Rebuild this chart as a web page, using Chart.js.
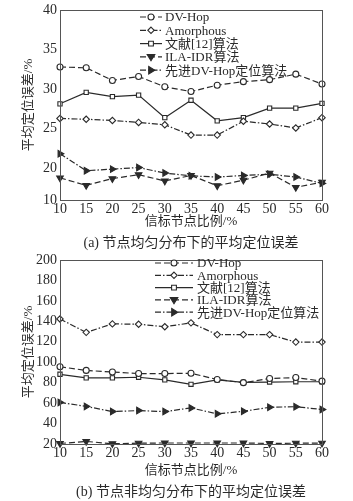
<!DOCTYPE html>
<html>
<head>
<meta charset="utf-8">
<script src="https://cdn.jsdelivr.net/npm/chart.js@4.4.1/dist/chart.umd.min.js"></script>
<style>
  body { margin: 0; background: #fff; }
  #wrap { position: relative; width: 353px; height: 501px; }
  canvas { position: absolute; left: 0; }
  .cap { position: absolute; left: 0; width: 382px; text-align: center;
         font: 14px 'Liberation Serif', 'Noto Sans CJK SC', serif; color: #2a2a2a; }
</style>
</head>
<body>
<div id="wrap">
  <canvas id="chartA" width="353" height="250" style="top:0"></canvas>
  <div class="cap" style="top:231px">(a) 节点均匀分布下的平均定位误差</div>
  <canvas id="chartB" width="353" height="251" style="top:250px"></canvas>
  <div class="cap" style="top:480px">(b) 节点非均匀分布下的平均定位误差</div>
</div>
<script>
const xLabels = ['10', '15', '20', '25', '30', '35', '40', '45', '50', '55', '60'];
const seriesNames = ['DV-Hop', 'Amorphous', '文献[12]算法', 'ILA-IDR算法', '先进DV-Hop定位算法'];

// (a) 节点均匀分布
const dvHopA    = [32.8, 32.7, 31.1, 31.6, 30.3, 29.7, 30.5, 30.95, 31.2, 31.9, 30.65];
const amorphA   = [26.3, 26.2, 26.05, 25.8, 25.5, 24.2, 24.2, 25.95, 25.6, 25.1, 26.4];
const ref12A    = [28.15, 29.6, 29.05, 29.25, 26.4, 28.6, 26.0, 26.4, 27.6, 27.6, 28.2];
const ilaIdrA   = [18.8, 17.85, 18.7, 19.2, 18.4, 19.1, 17.8, 18.5, 19.4, 17.6, 18.25];
const advDvHopA = [21.85, 19.7, 19.9, 20.1, 19.4, 19.05, 18.9, 19.1, 19.25, 18.9, 18.1];
// the original axis is broken: bottom tick reads 10
const yTickValsA = [16, 20, 25, 30, 35, 40];
const yTickLabelsA = ['10', '20', '25', '30', '35', '40'];

// (b) 节点非均匀分布
const dvHopB    = [95.6, 92.0, 90.4, 88.9, 88.9, 89.2, 83.1, 80.0, 84.1, 85.0, 81.5];
const amorphB   = [142.3, 129.2, 137.5, 137.2, 134.7, 138.5, 127.0, 127.0, 127.0, 119.7, 119.7];
const ref12B    = [88.2, 84.7, 84.7, 85.3, 82.8, 78.4, 82.8, 80.3, 80.6, 80.9, 80.9];
const ilaIdrB   = [20.5, 22.5, 20.3, 20.8, 21, 21, 21, 21, 20.5, 20.8, 20.8];
const advDvHopB = [60.7, 56.8, 51.7, 52.7, 51.7, 55.3, 49.5, 52.0, 55.9, 56.5, 53.7];
const yTickValsB = [20, 40, 60, 80, 100, 120, 140, 160, 180, 200];
const yTickLabelsB = yTickValsB.map(String);

const INK = '#2a2a2a';
const FONT = "'Liberation Serif', 'Noto Sans CJK SC', serif";

// style per series: dash, marker, filled
const styles = [
    { dash: [6, 3], marker: 'circle', fill: false },
    { dash: [6, 2, 1.5, 2], marker: 'diamond', fill: false },
    { dash: [], marker: 'square', fill: false },
    { dash: [6, 3], marker: 'down', fill: true },
    { dash: [6, 2, 1.5, 2], marker: 'right', fill: true }
];

function pointOpts(st) {
    const map = {
        circle: { pointStyle: 'circle', rotation: 0, r: 3 },
        diamond: { pointStyle: 'rectRot', rotation: 0, r: 3.2 },
        square: { pointStyle: 'rect', rotation: 0, r: 3 },
        down: { pointStyle: 'triangle', rotation: 180, r: 3.8 },
        right: { pointStyle: 'triangle', rotation: 90, r: 3.8 }
    };
    return map[st.marker];
}

function makeDatasets(lists) {
    return lists.map((data, i) => {
        const st = styles[i], p = pointOpts(st);
        return {
            label: seriesNames[i],
            data: data,
            borderColor: INK,
            borderWidth: 1.2,
            borderDash: st.dash,
            pointStyle: p.pointStyle,
            pointRotation: p.rotation,
            pointRadius: p.r,
            pointBorderWidth: 1.1,
            pointBorderColor: INK,
            pointBackgroundColor: st.fill ? INK : '#fff',
            tension: 0,
            fill: false,
            clip: false
        };
    });
}

// hand-drawn legend: line sample + marker + text
function drawMarker(ctx, st, x, y) {
    const p = pointOpts(st);
    const r = p.r;
    ctx.save();
    ctx.setLineDash([]);
    ctx.lineWidth = 1.1;
    ctx.strokeStyle = INK;
    ctx.fillStyle = st.fill ? INK : '#fff';
    ctx.beginPath();
    if (st.marker === 'circle') {
        ctx.arc(x, y, r, 0, Math.PI * 2);
    } else if (st.marker === 'diamond') {
        ctx.moveTo(x, y - r); ctx.lineTo(x + r, y); ctx.lineTo(x, y + r); ctx.lineTo(x - r, y);
        ctx.closePath();
    } else if (st.marker === 'square') {
        ctx.rect(x - r * 0.8, y - r * 0.8, r * 1.6, r * 1.6);
    } else if (st.marker === 'down') {
        ctx.moveTo(x - r, y - r * 0.6); ctx.lineTo(x + r, y - r * 0.6); ctx.lineTo(x, y + r);
        ctx.closePath();
    } else {
        ctx.moveTo(x - r * 0.6, y - r); ctx.lineTo(x + r, y); ctx.lineTo(x - r * 0.6, y + r);
        ctx.closePath();
    }
    ctx.fill();
    ctx.stroke();
    ctx.restore();
}

const framePlugin = {
    id: 'frameLegend',
    afterDraw(chart, args, opts) {
        const { ctx, chartArea: a } = chart;
        ctx.save();
        ctx.strokeStyle = '#555';
        ctx.lineWidth = 1;
        ctx.setLineDash([]);
        ctx.strokeRect(Math.round(a.left) + 0.5, Math.round(a.top) + 0.5,
            Math.round(a.right - a.left), Math.round(a.bottom - a.top));
        // legend
        ctx.font = '13px ' + FONT;
        ctx.textBaseline = 'middle';
        ctx.fillStyle = INK;
        seriesNames.forEach((name, i) => {
            const y = opts.y0 + i * opts.gap;
            ctx.save();
            ctx.strokeStyle = INK;
            ctx.lineWidth = 1.2;
            ctx.setLineDash(styles[i].dash);
            ctx.beginPath();
            ctx.moveTo(opts.x0, y);
            ctx.lineTo(opts.x1, y);
            ctx.stroke();
            ctx.restore();
            drawMarker(ctx, styles[i], (opts.x0 + opts.x1) / 2, y);
            ctx.fillText(name, opts.tx, y + 1);
        });
        ctx.restore();
    }
};

function makeChart(id, lists, yMin, yMax, tickVals, tickLabels, layout, legend) {
    return new Chart(document.getElementById(id), {
        type: 'line',
        data: { labels: xLabels, datasets: makeDatasets(lists) },
        options: {
            responsive: false,
            animation: false,
            layout: { padding: { left: 0, right: layout.right, top: layout.top, bottom: layout.bottom } },
            plugins: { legend: { display: false }, tooltip: { enabled: false }, frameLegend: legend },
            scales: {
                x: {
                    offset: false,
                    grid: { display: false, drawTicks: false },
                    border: { display: false },
                    ticks: { color: INK, font: { family: FONT, size: 14, lineHeight: 1 }, padding: 2, maxRotation: 0 },
                    title: { display: true, text: '信标节点比例/%', color: INK,
                             font: { family: FONT, size: 13, lineHeight: 1 }, padding: { top: 0, bottom: 0 } },
                    afterFit(scale) { scale.height = layout.xh; }
                },
                y: {
                    min: yMin,
                    max: yMax,
                    grid: { display: false, drawTicks: false },
                    border: { display: false },
                    afterBuildTicks(scale) { scale.ticks = tickVals.map(v => ({ value: v })); },
                    ticks: {
                        color: INK, font: { family: FONT, size: 14, lineHeight: 1 }, padding: 3,
                        callback: v => tickLabels[tickVals.indexOf(v)]
                    },
                    title: { display: true, text: '平均定位误差/%', color: INK,
                             font: { family: FONT, size: 13, lineHeight: 1 }, padding: { top: 22, bottom: 0 } },
                    afterFit(scale) { scale.width = 60; }
                }
            }
        },
        plugins: [framePlugin]
    });
}

makeChart('chartA', [dvHopA, amorphA, ref12A, ilaIdrA, advDvHopA], 16, 40, yTickValsA, yTickLabelsA,
    { right: 31, top: 10, bottom: 22, xh: 28 },
    { x0: 140, x1: 162, tx: 165, y0: 17, gap: 13.3 });

makeChart('chartB', [dvHopB, amorphB, ref12B, ilaIdrB, advDvHopB], 20, 200, yTickValsB, yTickLabelsB,
    { right: 31, top: 4, bottom: 24, xh: 33 },
    { x0: 155, x1: 193, tx: 197, y0: 13, gap: 12.3 });
</script>
</body>
</html>
